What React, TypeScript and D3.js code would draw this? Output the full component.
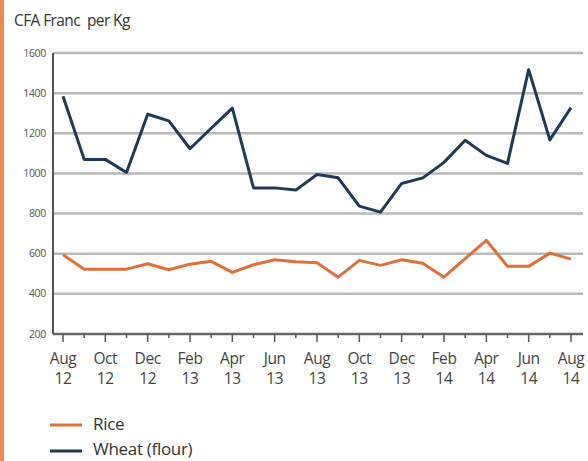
import React from "react";
import * as d3 from "d3";

const months = ["Aug 12","Sep 12","Oct 12","Nov 12","Dec 12","Jan 13","Feb 13","Mar 13","Apr 13","May 13","Jun 13","Jul 13","Aug 13","Sep 13","Oct 13","Nov 13","Dec 13","Jan 14","Feb 14","Mar 14","Apr 14","May 14","Jun 14","Jul 14","Aug 14"];
const rice = [595,523,523,523,550,520,548,562,507,545,570,560,555,483,567,542,570,553,483,575,667,537,537,603,573];
const wheat = [1385,1070,1070,1005,1295,1262,1123,1225,1325,928,928,917,995,978,837,807,950,978,1055,1165,1090,1050,1517,1167,1328];
const yTicks = [200,400,600,800,1000,1200,1400,1600];
const tickLabelsTop = ["Aug","Oct","Dec","Feb","Apr","Jun","Aug","Oct","Dec","Feb","Apr","Jun","Aug"];
const tickLabelsBottom = ["12","12","12","13","13","13","13","13","13","14","14","14","14"];

const W = 588, H = 461;
const left = 53, right = 583, top = 53, bottom = 334;

export default function App() {
  const x = d3.scalePoint<number>().domain(months.map((_, i) => i)).range([63, 571]);
  const y = d3.scaleLinear().domain([200, 1600]).range([bottom, top]);
  const line = d3.line<number>().x((_, i) => x(i)!).y((d) => y(d));
  const font = "'Open Sans', 'Noto Sans', sans-serif";
  return (
    <svg width={W} height={H} style={{ position: "absolute", left: 0, top: 0, background: "#fff" }}>
      <rect x={0} y={0} width={4} height={H} fill="#ec8a4f" />
      <text x={14} y={26} fontFamily={font} fontSize={15.5} fill="#333" letterSpacing={-0.6} style={{ whiteSpace: "pre" }}>CFA Franc  per Kg</text>
      {yTicks.map((t) => (
        <g key={t}>
          {t > 200 && <line x1={left} x2={right} y1={y(t)} y2={y(t)} stroke="#b9b9b9" strokeWidth={2.5} />}
          <text x={46} y={y(t) + 3.5} textAnchor="end" fontFamily={font} fontSize={10.5} fill="#555" letterSpacing={-0.3}>{t}</text>
        </g>
      ))}
      <line x1={left} x2={left} y1={top} y2={bottom} stroke="#555" strokeWidth={2} />
      <line x1={left} x2={right} y1={bottom} y2={bottom} stroke="#666" strokeWidth={2.5} />
      {months.map((_, i) => (
        <line key={i} x1={x(i)!} x2={x(i)!} y1={bottom} y2={bottom + (i % 2 === 0 ? 8 : 4)} stroke="#555" strokeWidth={1.5} />
      ))}
      {tickLabelsTop.map((lab, k) => (
        <g key={k}>
          <text x={x(k * 2)!} y={364} textAnchor="middle" fontFamily={font} fontSize={15.5} fill="#444" letterSpacing={-0.4}>{lab}</text>
          <text x={x(k * 2)!} y={384} textAnchor="middle" fontFamily={font} fontSize={15.5} fill="#444" letterSpacing={-0.4}>{tickLabelsBottom[k]}</text>
        </g>
      ))}
      <path d={line(wheat)!} fill="none" stroke="#1f3a58" strokeWidth={3} strokeLinejoin="round" />
      <path d={line(rice)!} fill="none" stroke="#e0703a" strokeWidth={3} strokeLinejoin="round" />
      <line x1={50} x2={82} y1={425} y2={425} stroke="#e0703a" strokeWidth={3} />
      <text x={93} y={430} fontFamily={font} fontSize={17} fill="#333" letterSpacing={-0.3}>Rice</text>
      <line x1={50} x2={82} y1={451} y2={451} stroke="#1f3a58" strokeWidth={3} />
      <text x={93} y={455} fontFamily={font} fontSize={17} fill="#333" letterSpacing={-0.3}>Wheat (flour)</text>
    </svg>
  );
}
